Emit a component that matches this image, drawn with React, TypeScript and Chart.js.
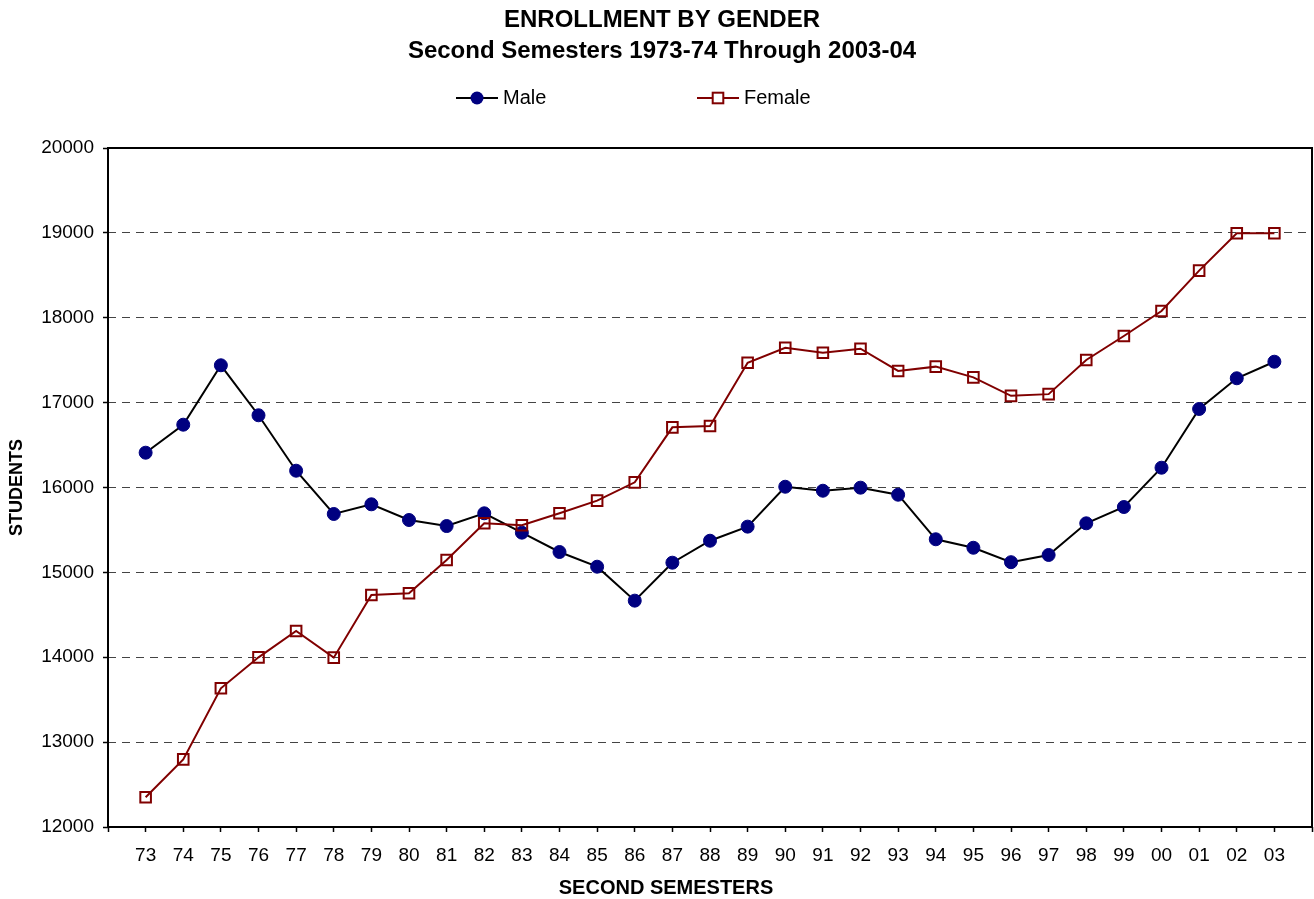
import React, { useEffect, useRef } from "react";
import { Chart, registerables } from "chart.js";

Chart.register(...registerables);

const xLabels = ["73","74","75","76","77","78","79","80","81","82","83","84","85","86","87","88","89","90","91","92","93","94","95","96","97","98","99","00","01","02","03"];

const maleValues = [16410, 16740, 17440, 16851, 16198, 15688, 15802, 15617, 15546, 15696, 15468, 15240, 15067, 14667, 15114, 15373, 15539, 16009, 15962, 15998, 15915, 15390, 15290, 15120, 15205, 15578, 15770, 16233, 16925, 17287, 17482];

const femaleValues = [12350, 12797, 13634, 13999, 14309, 13995, 14733, 14754, 15146, 15578, 15555, 15696, 15845, 16061, 16709, 16725, 17470, 17647, 17588, 17635, 17373, 17424, 17298, 17080, 17100, 17502, 17785, 18080, 18555, 18995, 18995];

const titleLines = ["ENROLLMENT BY GENDER", "Second Semesters 1973-74 Through 2003-04"];
const yTitle = "STUDENTS";
const xTitle = "SECOND SEMESTERS";

const FONT = "'Liberation Sans', Arial, Helvetica, sans-serif";
const W = 1314;
const H = 899;

const legendXs = [456, 697];
const legendY = 98;

const customPlugin = {
  id: "customDecor",
  beforeDatasetsDraw(chart: any) {
    const { ctx, chartArea } = chart;
    ctx.save();
    ctx.strokeStyle = "#000";
    ctx.lineWidth = 2;
    ctx.strokeRect(chartArea.left, chartArea.top, chartArea.right - chartArea.left, chartArea.bottom - chartArea.top);
    ctx.restore();
  },
  afterDraw(chart: any) {
    const { ctx } = chart;
    ctx.save();
    chart.data.datasets.forEach((ds: any, i: number) => {
      const x0 = legendXs[i];
      const y = legendY;
      ctx.strokeStyle = ds.borderColor;
      ctx.lineWidth = ds.borderWidth;
      ctx.setLineDash([]);
      ctx.beginPath();
      ctx.moveTo(x0, y);
      ctx.lineTo(x0 + 42, y);
      ctx.stroke();
      const cx = x0 + 21;
      if (ds.pointStyle === "rect") {
        const s = ds.pointRadius * Math.SQRT1_2;
        ctx.strokeStyle = ds.pointBorderColor;
        ctx.lineWidth = ds.pointBorderWidth;
        ctx.fillStyle = "#fff";
        ctx.fillRect(cx - s, y - s, 2 * s, 2 * s);
        ctx.strokeRect(cx - s, y - s, 2 * s, 2 * s);
      } else {
        ctx.fillStyle = ds.pointBackgroundColor;
        ctx.beginPath();
        ctx.arc(cx, y, ds.pointRadius, 0, Math.PI * 2);
        ctx.fill();
      }
      ctx.fillStyle = "#000";
      ctx.font = `20px ${FONT}`;
      ctx.textAlign = "left";
      ctx.textBaseline = "middle";
      ctx.fillText(ds.label, x0 + 47, y);
    });
    ctx.font = `bold 20px ${FONT}`;
    ctx.textAlign = "center";
    ctx.textBaseline = "middle";
    ctx.fillStyle = "#000";
    ctx.fillText(xTitle, 666, 888);
    ctx.restore();
  },
};

export default function App() {
  const ref = useRef<HTMLCanvasElement | null>(null);

  useEffect(() => {
    document.body.style.margin = "0";
    const canvas = ref.current;
    if (!canvas) return;
    const chart = new Chart(canvas, {
      type: "line",
      data: {
        datasets: [
          {
            label: "Male",
            data: maleValues.map((v, i) => ({ x: i, y: v })),
            borderColor: "#000000",
            borderWidth: 2,
            pointStyle: "circle",
            pointRadius: 6.5,
            pointBackgroundColor: "#000080",
            pointBorderColor: "#000080",
            pointBorderWidth: 1,
            tension: 0,
            order: 2,
          },
          {
            label: "Female",
            data: femaleValues.map((v, i) => ({ x: i, y: v })),
            borderColor: "#800000",
            borderWidth: 2,
            pointStyle: "rect",
            pointRadius: 7.5,
            pointBackgroundColor: "rgba(0,0,0,0)",
            pointBorderColor: "#800000",
            pointBorderWidth: 2,
            tension: 0,
            order: 1,
          },
        ],
      },
      options: {
        responsive: false,
        animation: false,
        devicePixelRatio: 1,
        layout: { autoPadding: false, padding: { left: 12, right: 2, top: 0, bottom: 0 } },
        plugins: {
          legend: { display: false },
          tooltip: { enabled: false },
          title: {
            display: true,
            text: titleLines,
            color: "#000",
            font: { family: FONT, size: 24, weight: "bold", lineHeight: 31 / 24 },
            padding: { top: 4.5, bottom: 81.5 },
          },
        },
        scales: {
          x: {
            type: "linear",
            min: -1,
            max: 31,
            afterBuildTicks: (scale: any) => {
              scale.ticks = Array.from({ length: xLabels.length + 2 }, (_, i) => ({ value: i - 1 }));
            },
            afterFit: (scale: any) => {
              scale.height = 72;
              scale.paddingLeft = 0;
              scale.paddingRight = 0;
            },
            ticks: {
              autoSkip: false,
              maxRotation: 0,
              minRotation: 0,
              color: "#000",
              padding: 12,
              font: { family: FONT, size: 19 },
              callback: (v: any) => xLabels[v as number] ?? "",
            },
            grid: {
              drawOnChartArea: false,
              drawTicks: true,
              tickLength: 5,
              color: "#000",
              tickColor: "#000",
              tickWidth: 1.5,
            },
            border: { display: false },
          },
          y: {
            min: 12000,
            max: 20000,
            afterFit: (scale: any) => {
              scale.width = 96;
            },
            ticks: {
              stepSize: 1000,
              color: "#000",
              padding: 9,
              font: { family: FONT, size: 19 },
              callback: (v: any) => String(v),
            },
            grid: {
              color: (c: any) =>
                c.tick && (c.tick.value === 12000 || c.tick.value === 20000) ? "rgba(0,0,0,0)" : "#444444",
              lineWidth: 1,
              tickLength: 5,
              tickColor: "#000",
              tickWidth: 1.5,
            },
            border: { display: false, dash: [8, 6] },
            title: {
              display: true,
              text: yTitle,
              color: "#000",
              font: { family: FONT, size: 18, weight: "bold", lineHeight: 1 },
              padding: { top: -4, bottom: 0 },
            },
          },
        },
      },
      plugins: [customPlugin],
    } as any);
    return () => chart.destroy();
  }, []);

  return (
    <div style={{ width: W, height: H }}>
      <canvas ref={ref} width={W} height={H} style={{ width: W, height: H, display: "block" }} />
    </div>
  );
}
